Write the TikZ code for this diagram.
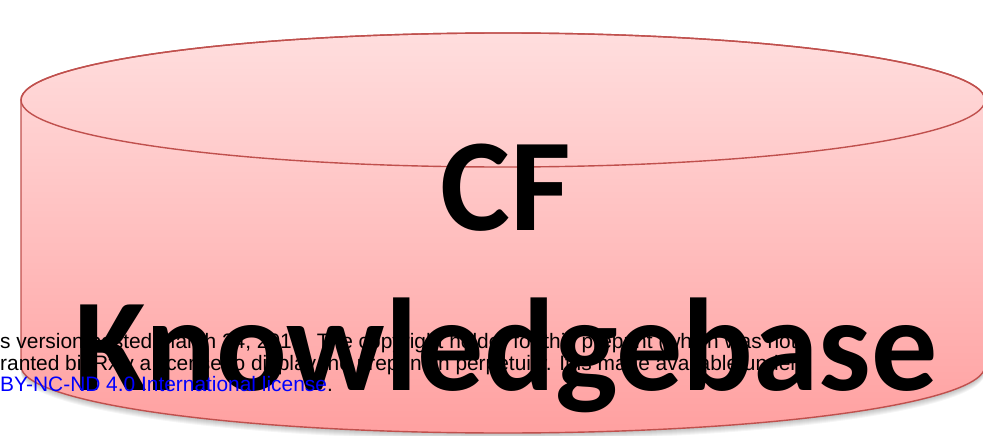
\documentclass[tikz,border=0pt]{standalone}
\usepackage{fontspec}
\usepackage{xcolor}
\usepackage{tikz}
\newfontfamily\titlefont{Carlito}[BoldFont={Carlito Bold}]
\newfontfamily\notefont{Liberation Sans}
\definecolor{rimred}{RGB}{192,80,77}
\definecolor{pinktop}{RGB}{255,222,222}
\definecolor{pinkbot}{RGB}{255,160,160}
\definecolor{linkblue}{RGB}{0,0,255}

\begin{document}
\begin{tikzpicture}[
x=1pt,y=-1pt,
dbbody/.style={draw=rimred, line width=1.4pt, top color=pinktop, bottom color=pinkbot},
rim/.style={draw=rimred, line width=1.4pt},
lbl/.style={font=\titlefont\bfseries\fontsize{132}{150}\selectfont, anchor=base, inner sep=0pt},
note/.style={font=\notefont\fontsize{20.9}{22}\selectfont, anchor=base west, inner sep=0pt}
]
\useasboundingbox (0,0) rectangle (983,436);
\clip (0,0) rectangle (983,436);
% soft shadow under the drum
\foreach \s in {1,...,7} {\fill[black, opacity=0.04] (503,366+\s) ellipse [x radius=482, y radius=67];}
% drum
\draw[dbbody] (21,100) -- (21,366) arc [start angle=180, end angle=0, x radius=482, y radius=67]
  -- (985,100) arc [start angle=0, end angle=-180, x radius=482, y radius=67] -- cycle;
\draw[rim] (503,100) ellipse [x radius=482, y radius=67];
\node[lbl] (cf) at (506,230) {CF};
\node[lbl] (kb) at (506,390) {Knowledgebase};
% preprint notice over the figure
\begin{scope}
\clip (0,0) rectangle (797,436);
\node[note] (l1) at (0,348) {s version posted March 24, 2018. The copyright holder for this preprint (which was not};
\node[note] (l2) at (0,370) {ranted bioRxiv a license to display the preprint in perpetuity. It is made available under};
\end{scope}
\node[note] (l3) at (0,391.7) {\textcolor{linkblue}{BY-NC-ND 4.0 International license}.};
\end{tikzpicture}
\end{document}
